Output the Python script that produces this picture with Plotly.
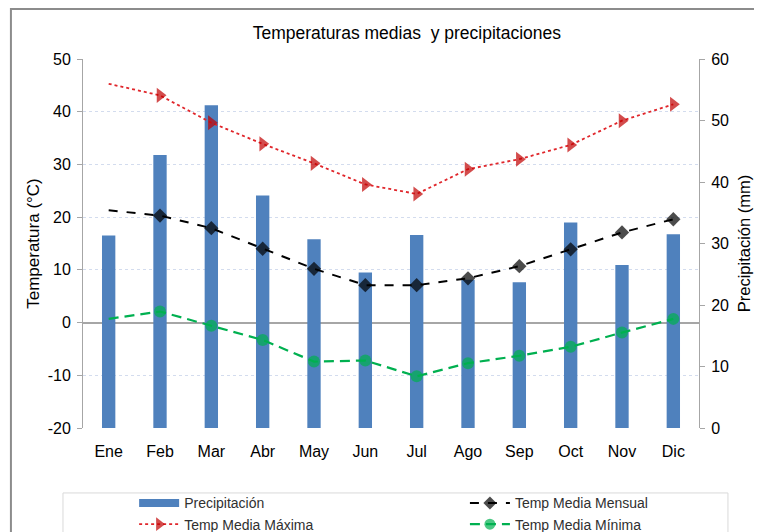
import plotly.graph_objects as go

# Datos
meses = ["Ene", "Feb", "Mar", "Abr", "May", "Jun", "Jul", "Ago", "Sep", "Oct", "Nov", "Dic"]
precipitacion = [31.3, 44.4, 52.5, 37.8, 30.7, 25.3, 31.4, 24.1, 23.7, 33.4, 26.5, 31.5]
temp_maxima = [45.3, 43.1, 37.9, 33.9, 30.2, 26.2, 24.4, 29.1, 31.0, 33.7, 38.3, 41.4]
temp_mensual = [21.3, 20.3, 17.9, 14.0, 10.2, 7.1, 7.1, 8.4, 10.7, 13.9, 17.1, 19.6]
temp_minima = [0.7, 2.1, -0.6, -3.3, -7.4, -7.2, -10.2, -7.7, -6.3, -4.6, -1.9, 0.7]

ticks_temp = [-20, -10, 0, 10, 20, 30, 40, 50]
etiquetas_temp = ["-20", "-10", "0", "10", "20", "30", "40", "50"]

FONT = "Liberation Sans, Arial, sans-serif"
AZUL = "#4F81BD"


def tamanos(n, s):
    # el primer mes no lleva marcador
    return [0] + [s] * (n - 1)


fig = go.Figure()

fig.add_trace(go.Bar(
    x=meses, y=precipitacion,
    name="Precipitación",
    marker={"color": AZUL, "line": {"width": 0}},
    width=0.26,
    yaxis="y",
    showlegend=False,
))

# entrada de leyenda con barra ancha, como en el original
fig.add_trace(go.Scatter(
    x=[None], y=[None],
    name="Precipitación",
    mode="lines",
    line={"color": AZUL, "width": 8},
    yaxis="y",
    legend="legend",
))

fig.add_trace(go.Scatter(
    x=meses, y=temp_mensual,
    name="Temp Media Mensual",
    mode="lines+markers",
    line={"color": "#000000", "width": 2, "dash": "dash"},
    marker={"symbol": "diamond", "size": tamanos(12, 11), "color": "#000000",
            "line": {"width": 0}},
    yaxis="y2",
    legend="legend2",
))

fig.add_trace(go.Scatter(
    x=meses, y=temp_maxima,
    name="Temp Media Máxima",
    mode="lines+markers",
    line={"color": "#E0262B", "width": 1.8, "dash": "dot"},
    marker={"symbol": "triangle-right", "size": tamanos(12, 13), "color": "#C00000",
            "line": {"width": 0}},
    yaxis="y2",
    legend="legend",
))

fig.add_trace(go.Scatter(
    x=meses, y=temp_minima,
    name="Temp Media Mínima",
    mode="lines+markers",
    line={"color": "#00B050", "width": 2.2, "dash": "10px,6px"},
    marker={"symbol": "circle", "size": tamanos(12, 12), "color": "#00B050",
            "line": {"width": 0}},
    yaxis="y2",
    legend="legend2",
))

leyenda = {
    "orientation": "v",
    "font": {"family": FONT, "size": 14, "color": "#303030"},
    "bgcolor": "rgba(0,0,0,0)",
    "tracegroupgap": 0,
    "itemwidth": 40,
    "xanchor": "left",
    "yanchor": "top",
    "y": -0.161,
}

fig.update_layout(
    template="none",
    width=754, height=524,
    paper_bgcolor="white", plot_bgcolor="white",
    font={"family": FONT, "size": 15, "color": "#000000"},
    title={
        "text": "Temperaturas medias  y precipitaciones",
        "x": 0.529, "xref": "container", "xanchor": "center",
        "y": 0.952, "yref": "container", "yanchor": "middle",
        "font": {"family": FONT, "size": 17.5, "color": "#000000"},
    },
    margin={"l": 75, "r": 63, "t": 51, "b": 104, "autoexpand": False},
    showlegend=True,
    legend={**leyenda, "x": 0.083},
    legend2={**leyenda, "x": 0.62},
    xaxis={
        "showline": False, "showgrid": False, "ticks": "", "zeroline": False,
        "tickfont": {"size": 16},
        "ticklabelstandoff": 12,
        "range": [-0.5, 11.5],
    },
    yaxis={
        "side": "right",
        "range": [0, 60], "dtick": 10,
        "showgrid": False, "zeroline": False,
        "showline": True, "linecolor": "#A6A6A6", "linewidth": 1,
        "ticks": "outside", "ticklen": 5, "tickcolor": "#A6A6A6",
        "tickfont": {"size": 16},
        "ticklabelstandoff": 3,
        "title": {"text": "Precipitación (mm)", "font": {"size": 16.5}, "standoff": 10},
    },
    yaxis2={
        "overlaying": "y", "side": "left",
        "range": [-20, 50],
        "tickvals": ticks_temp, "ticktext": etiquetas_temp,
        "showgrid": True, "gridcolor": "#D3DCEE", "griddash": "dot", "gridwidth": 1,
        "zeroline": True, "zerolinecolor": "#A6A6A6", "zerolinewidth": 1.5,
        "showline": True, "linecolor": "#A6A6A6", "linewidth": 1,
        "ticks": "outside", "ticklen": 5, "tickcolor": "#A6A6A6",
        "tickfont": {"size": 16},
        "ticklabelstandoff": 3,
        "title": {"text": "Temperatura (°C)", "font": {"size": 17}, "standoff": 3},
    },
    shapes=[
        # marco exterior del gráfico
        {"type": "rect", "xref": "paper", "yref": "paper",
         "x0": -0.117, "x1": 1.2, "y0": -0.5, "y1": 1.1355,
         "line": {"color": "#8C8C8C", "width": 2}, "fillcolor": "rgba(0,0,0,0)", "layer": "below"},
        # recuadro de la leyenda
        {"type": "rect", "xref": "paper", "yref": "paper",
         "x0": -0.0325, "x1": 1.047, "y0": -0.4, "y1": -0.176,
         "line": {"color": "#D9D9D9", "width": 1}, "fillcolor": "rgba(0,0,0,0)"},
    ],
)

fig.write_html("out.html")
